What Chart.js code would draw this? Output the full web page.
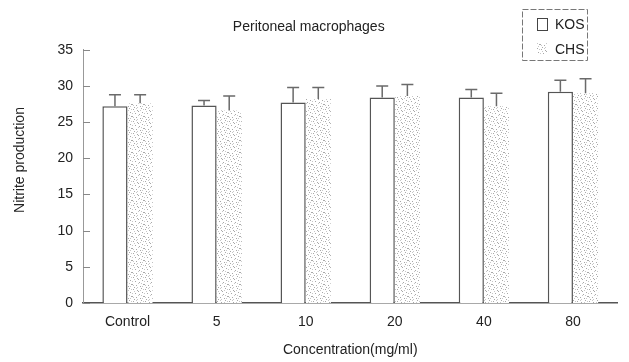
<!DOCTYPE html>
<html>
<head>
<meta charset="utf-8">
<script src="https://cdn.jsdelivr.net/npm/chart.js@4"></script>
<style>
html,body{margin:0;padding:0;background:#fff;}
#wrap{width:629px;height:362px;}
</style>
</head>
<body>
<div id="wrap"><canvas id="c" width="629" height="362"></canvas></div>
<script>
const categories = ["Control", "5", "10", "20", "40", "80"];
const kosValues = [27.2, 27.3, 27.7, 28.4, 28.4, 29.2];
const kosErrors = [1.6, 0.7, 2.1, 1.6, 1.1, 1.6];
const chsValues = [27.6, 26.6, 28.2, 28.6, 27.2, 29.0];
const chsErrors = [1.2, 2.0, 1.6, 1.6, 1.8, 2.0];
const yTicks = [0, 5, 10, 15, 20, 25, 30, 35];

const FONT = "'Liberation Sans', Arial, sans-serif";

// stipple pattern for CHS bars
function makePattern(){
  let p = document.createElement("canvas");
  p.width = 12; p.height = 12;
  let g = p.getContext("2d");
  g.fillStyle = "#fff";
  g.fillRect(0,0,12,12);
  g.fillStyle = "#a8a8a8";
  let dots = [[1,1],[5,2],[9,0],[3,5],[7,6],[10,4],[0,8],[4,9],[8,10],[11,8],[2,11],[6,3]];
  dots.forEach(d=>g.fillRect(d[0],d[1],1,1));
  g.fillStyle = "#c8c8c8";
  [[2,3],[6,7],[10,10],[8,2],[0,5],[4,0],[11,1],[5,11],[9,7],[1,9]].forEach(d=>g.fillRect(d[0],d[1],1,1));
  return g.createPattern(p,"repeat");
}
const pattern = makePattern();

const errorBars = {
  id:"errorBars",
  afterDatasetsDraw(chart){
    let ctx = chart.ctx;
    let y = chart.scales.y;
    let errs = [kosErrors, chsErrors];
    chart.data.datasets.forEach((ds,i)=>{
      let meta = chart.getDatasetMeta(i);
      meta.data.forEach((bar,j)=>{
        let top = y.getPixelForValue(ds.data[j] + errs[i][j]);
        ctx.save();
        ctx.strokeStyle = "#6a6a6a";
        ctx.lineWidth = 1.5;
        ctx.beginPath();
        ctx.moveTo(bar.x, bar.y);
        ctx.lineTo(bar.x, top);
        ctx.moveTo(bar.x-6, top);
        ctx.lineTo(bar.x+6, top);
        ctx.stroke();
        ctx.restore();
      });
    });
  }
};

const innerTicks = {
  id:"innerTicks",
  afterDraw(chart){
    let ctx = chart.ctx;
    let y = chart.scales.y;
    let x0 = chart.chartArea.left;
    ctx.save();
    ctx.strokeStyle = "#888";
    ctx.lineWidth = 1;
    yTicks.forEach(v=>{
      let py = Math.round(y.getPixelForValue(v))+0.5;
      ctx.beginPath();
      ctx.moveTo(x0, py);
      ctx.lineTo(x0+7, py);
      ctx.stroke();
    });
    ctx.restore();
  }
};

// y axis title sits a bit above the plot centre in the original
const yTitle = {
  id:"yTitle",
  afterDraw(chart){
    let ctx = chart.ctx;
    ctx.save();
    ctx.translate(20, 160);
    ctx.rotate(-Math.PI/2);
    ctx.fillStyle = "#222";
    ctx.font = "14px " + FONT;
    ctx.textAlign = "center";
    ctx.textBaseline = "middle";
    ctx.fillText("Nitrite production", 0, 0);
    ctx.restore();
  }
};

const boxLegend = {
  id:"boxLegend",
  afterDraw(chart){
    let ctx = chart.ctx;
    ctx.save();
    ctx.strokeStyle = "#777";
    ctx.lineWidth = 1;
    ctx.setLineDash([6,2]);
    ctx.strokeRect(522.5, 9.5, 65, 51);
    ctx.setLineDash([]);
    chart.data.datasets.forEach((ds,i)=>{
      let cy = 24 + i*25;
      ctx.fillStyle = ds.backgroundColor;
      ctx.fillRect(537, cy-6, 10, 12);
      if(i==0){
        ctx.strokeStyle = "#444";
        ctx.strokeRect(537.5, cy-5.5, 10, 12);
      }
      ctx.fillStyle = "#222";
      ctx.font = "14px " + FONT;
      ctx.textBaseline = "middle";
      ctx.fillText(ds.label, 555, cy+1);
    });
    ctx.restore();
  }
};

new Chart(document.getElementById("c"),{
  type:"bar",
  data:{
    labels:categories,
    datasets:[
      {label:"KOS", data:kosValues, backgroundColor:"#fff", borderColor:"#555",
       borderWidth:{top:1.5,left:1.5,right:1.5,bottom:0}, borderSkipped:"start"},
      {label:"CHS", data:chsValues, backgroundColor:pattern, borderWidth:0}
    ]
  },
  options:{
    responsive:false,
    animation:false,
    layout:{padding:{right:11.5}},
    datasets:{bar:{categoryPercentage:0.565, barPercentage:1}},
    plugins:{
      legend:{display:false},
      tooltip:{enabled:false},
      title:{display:true, text:"Peritoneal macrophages", color:"#222",
        font:{family:FONT, size:14, weight:"normal"}, padding:{top:19, bottom:14}}
    },
    scales:{
      x:{
        grid:{display:false, drawTicks:false},
        border:{display:true, color:"#555", width:1.5},
        ticks:{color:"#222", font:{family:FONT, size:14}, padding:11},
        title:{display:true, text:"Concentration(mg/ml)", color:"#222",
          font:{family:FONT, size:14}, padding:{top:0, bottom:3}},
        afterFit(s){ s.height = 59; }
      },
      y:{
        min:0, max:35,
        grid:{display:false, drawTicks:false},
        border:{display:true, color:"#999", width:1},
        afterBuildTicks(s){ s.ticks = yTicks.map(v=>({value:v})); },
        ticks:{color:"#222", font:{family:FONT, size:14}, padding:10},
        afterFit(s){ s.width = 83; }
      }
    }
  },
  plugins:[errorBars, innerTicks, yTitle, boxLegend]
});
</script>
</body>
</html>
